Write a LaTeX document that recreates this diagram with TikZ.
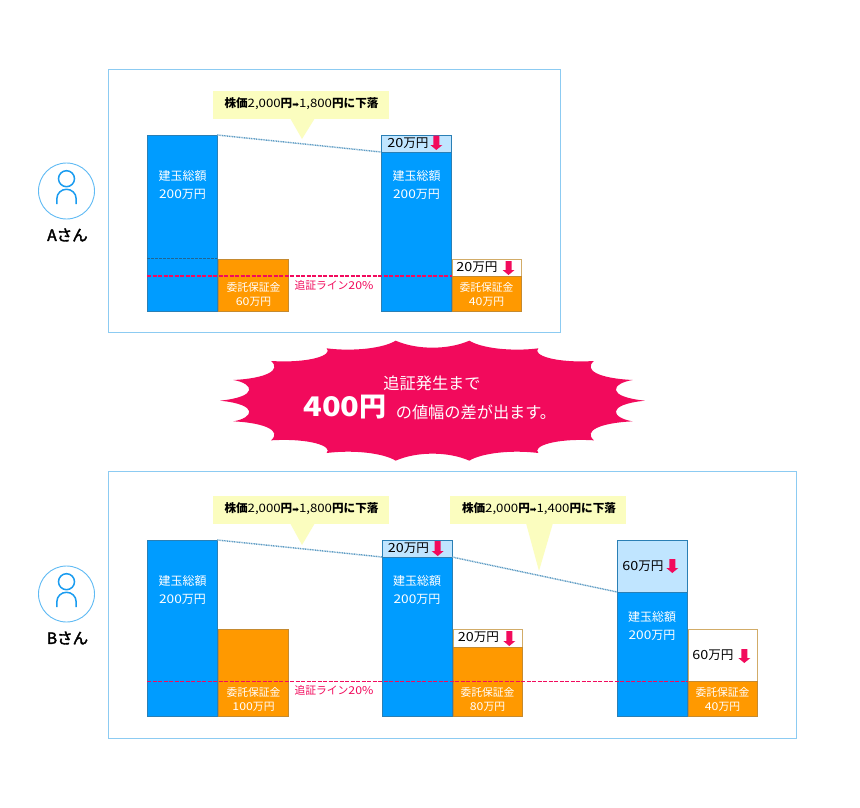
\documentclass[tikz,border=0pt]{standalone}
\usepackage{fontspec}
\setmainfont{Noto Sans CJK JP}
\newfontfamily\arrfont{DejaVu Sans}
\newfontfamily\numf[FakeStretch=1.14]{Noto Sans CJK JP}
\newfontfamily\medf[FakeBold=2.5]{Noto Sans CJK JP}
\newcommand\dg[1]{{\numf\mdseries #1}}
\definecolor{framec}{HTML}{8CCBF2}
\definecolor{barc}{HTML}{009CFF}
\definecolor{bard}{HTML}{2A7FB5}
\definecolor{lightc}{HTML}{C0E5FF}
\definecolor{orangec}{HTML}{FF9900}
\definecolor{oranged}{HTML}{C58A30}
\definecolor{topd}{HTML}{D2AC68}
\definecolor{creamc}{HTML}{FBFDBF}
\definecolor{redc}{HTML}{F20A5C}
\definecolor{rulered}{HTML}{F20B5D}
\definecolor{dotc}{HTML}{5E9CC4}
\definecolor{personc}{HTML}{1A9CF0}
\newcommand\rectn[6]{\node[#2,minimum width={(#5-#3)*1pt},minimum height={(#6-#4)*1pt}] (#1) at ({(#3+#5)/2},{(#4+#6)/2}) {};}
\newcommand\lbl[5]{\node[#2] (#1) at (#3,#4) {#5};}
\newcommand\downarr[3]{\fill[redc] (#1-3,#2) -- (#1+3,#2) -- (#1+3,#3-5) -- (#1+6,#3-5) -- (#1,#3) -- (#1-6,#3-5) -- (#1-3,#3-5) -- cycle;}
\newcommand\person[2]{%
  \draw[personc,line width=1.5] (#1,#2-12.3) circle[radius=8];
  \draw[personc,line width=1.5] (#1-9.7,#2+13) -- (#1-9.7,#2+8) .. controls (#1-9.7,#2+2) and (#1-5,#2-1.7) .. (#1,#2-1.7) .. controls (#1+5,#2-1.7) and (#1+9.7,#2+2) .. (#1+9.7,#2+8) -- (#1+9.7,#2+13);}
\tikzset{
  x=1pt,y=-1pt,
  every node/.style={inner sep=0,outer sep=0},
  panel/.style={draw=framec,line width=1,fill=white},
  barbox/.style={draw=bard,line width=1,fill=barc},
  topbox/.style={draw=bard,line width=1,fill=lightc},
  orbox/.style={draw=oranged,line width=1,fill=orangec},
  wbox/.style={draw=topd,line width=1,fill=white},
  callout/.style={fill=creamc},
  pricedrop/.style={draw=dotc,line width=1.4,dash pattern=on 1pt off 0.7pt},
  marginline/.style={draw=rulered,line width=1.5,dash pattern=on 4pt off 1.5pt},
  darkline/.style={draw=bard!80!black,line width=1,dash pattern=on 3pt off 1pt},
  wtxt/.style={text=white,font=\fontsize{12}{12}\selectfont},
  otxt/.style={text=white,font=\fontsize{10.8}{11}\selectfont},
  ktxt/.style={text=black,font=\fontsize{12.6}{13}\selectfont},
  ctxt/.style={text=black,font=\fontsize{11.6}{12}\selectfont\bfseries},
  rtxt/.style={text=redc,font=\fontsize{10.8}{11}\selectfont},
  ntxt/.style={text=black,font=\fontsize{15.5}{16}\selectfont\medf},
  circ/.style={draw=personc!70,line width=0.9,fill=white,circle,minimum size=56pt},
}
\begin{document}
\begin{tikzpicture}
\useasboundingbox (0,0) rectangle (860,808);
% panel A
\rectn{panelA}{panel}{108}{70}{560}{332}
\node[circ] (faceA) at (66.5,191) {};
\person{66.5}{191}
\lbl{nameA}{ntxt}{67.5}{235}{Aさん}
\rectn{a1bar}{barbox}{147}{135}{217}{311}
\rectn{a1or}{orbox}{218}{259}{288}{311}
\rectn{a2top}{topbox}{381}{135}{451}{152}
\rectn{a2bar}{barbox}{381}{152}{451}{311}
\rectn{a2w}{wbox}{452}{259}{521}{276}
\rectn{a2or}{orbox}{452}{276}{521}{311}
\coordinate (aDarkL) at (147,258.5);
\coordinate (aDarkR) at (217,258.5);
\coordinate (aLineL) at (147,276);
\coordinate (aLineR) at (451.5,276);
\draw[darkline] (aDarkL) -- (aDarkR);
\draw[marginline] (aLineL) -- (aLineR);
\draw[pricedrop] (a1bar.north east) -- (a2top.south west);
\fill[callout] (213,91) rectangle (389,119);
\fill[callout] (290,118) -- (315,118) -- (302,139) -- cycle;
\lbl{aCall}{ctxt}{301.5}{104}{株価\dg{2,000}円{\arrfont\fontsize{8}{8}\selectfont ➡}\dg{1,800}円に下落}
\lbl{a1t1}{wtxt}{182.5}{176}{建玉総額}
\lbl{a1t2}{wtxt}{182.5}{194}{\dg{200}万円}
\lbl{a1o1}{otxt}{253.5}{287}{委託保証金}
\lbl{a1o2}{otxt}{253.5}{302}{\dg{60}万円}
\lbl{aRule}{rtxt}{334}{285}{追証ライン\dg{20\%}}
\lbl{a2d}{ktxt}{408}{143}{\dg{20}万円}
\downarr{436.3}{135.7}{150}
\lbl{a2t1}{wtxt}{416.5}{176}{建玉総額}
\lbl{a2t2}{wtxt}{416.5}{194}{\dg{200}万円}
\lbl{a2wd}{ktxt}{477}{267}{\dg{20}万円}
\downarr{508.5}{261}{275}
\lbl{a2o1}{otxt}{486.5}{287}{委託保証金}
\lbl{a2o2}{otxt}{486.5}{302}{\dg{40}万円}
% burst
\begin{scope}[shift={(210,335)},scale=0.33333]
\fill[redc] (30,197) .. controls (150,185) and (130,145) .. (70,135)
 .. controls (170,130) and (215,105) .. (183,78)
 .. controls (300,85) and (370,60) .. (350,40)
 .. controls (430,50) and (520,40) .. (557,17)
 .. controls (620,45) and (715,45) .. (778,17)
 .. controls (815,40) and (905,50) .. (985,40)
 .. controls (965,60) and (1035,85) .. (1152,78)
 .. controls (1120,105) and (1165,130) .. (1268,135)
 .. controls (1205,145) and (1185,185) .. (1305,197)
 .. controls (1185,209) and (1205,249) .. (1268,259)
 .. controls (1165,264) and (1120,289) .. (1152,316)
 .. controls (1035,309) and (965,334) .. (985,354)
 .. controls (905,344) and (815,354) .. (778,377)
 .. controls (715,349) and (620,349) .. (557,377)
 .. controls (520,354) and (430,344) .. (350,354)
 .. controls (370,334) and (300,309) .. (183,316)
 .. controls (215,289) and (170,264) .. (70,259)
 .. controls (130,249) and (150,209) .. (30,197) -- cycle;
\end{scope}
\node[text=white,font=\fontsize{16.2}{16}\selectfont] (burst1) at (432,383) {追証発生まで};
\node[text=white,font=\fontsize{27}{27}\selectfont\bfseries] (burst2) at (345,407) {{\numf\bfseries 400}円};
\node[text=white,font=\fontsize{16.2}{16}\selectfont] (burst3) at (476,412) {の値幅の差が出ます。};
% panel B
\rectn{panelB}{panel}{108}{471}{796}{738}
\node[circ] (faceB) at (66.5,594) {};
\person{66.5}{594}
\lbl{nameB}{ntxt}{67.5}{638}{Bさん}
\rectn{b1bar}{barbox}{147}{540}{217}{716}
\rectn{b1or}{orbox}{218}{629}{288}{716}
\rectn{b2top}{topbox}{382}{540}{452}{557}
\rectn{b2bar}{barbox}{382}{557}{452}{716}
\rectn{b2w}{wbox}{453}{629}{522}{647}
\rectn{b2or}{orbox}{453}{647}{522}{716}
\rectn{b3top}{topbox}{617}{540}{687}{592}
\rectn{b3bar}{barbox}{617}{592}{687}{716}
\rectn{b3w}{wbox}{688}{629}{757}{681}
\rectn{b3or}{orbox}{688}{681}{757}{716}
\draw[pricedrop] (b1bar.north east) -- (b2top.south west);
\draw[pricedrop] (b2top.south east) -- (b3top.south west);
\fill[callout] (213,496) rectangle (389,524);
\fill[callout] (290,523) -- (315,523) -- (302,545) -- cycle;
\lbl{bCall1}{ctxt}{301.5}{509}{株価\dg{2,000}円{\arrfont\fontsize{8}{8}\selectfont ➡}\dg{1,800}円に下落}
\fill[callout] (450,496) rectangle (626,524);
\fill[callout] (526,523) -- (553,523) -- (539,571) -- cycle;
\lbl{bCall2}{ctxt}{539}{509}{株価\dg{2,000}円{\arrfont\fontsize{8}{8}\selectfont ➡}\dg{1,400}円に下落}
\lbl{b1t1}{wtxt}{182.5}{581}{建玉総額}
\lbl{b1t2}{wtxt}{182.5}{599}{\dg{200}万円}
\lbl{b1o1}{otxt}{253.5}{692}{委託保証金}
\lbl{b1o2}{otxt}{253.5}{707}{\dg{100}万円}
\lbl{bRule}{rtxt}{334}{690}{追証ライン\dg{20\%}}
\lbl{b2d}{ktxt}{408.5}{548}{\dg{20}万円}
\downarr{437.7}{541}{556}
\lbl{b2t1}{wtxt}{417}{581}{建玉総額}
\lbl{b2t2}{wtxt}{417}{599}{\dg{200}万円}
\lbl{b2wd}{ktxt}{478.5}{637}{\dg{20}万円}
\downarr{509.3}{631}{646}
\lbl{b2o1}{otxt}{487.5}{692}{委託保証金}
\lbl{b2o2}{otxt}{487.5}{707}{\dg{80}万円}
\lbl{b3d}{ktxt}{643}{566}{\dg{60}万円}
\downarr{672.3}{559}{573}
\lbl{b3t1}{wtxt}{652}{617}{建玉総額}
\lbl{b3t2}{wtxt}{652}{635}{\dg{200}万円}
\lbl{b3wd}{ktxt}{713}{655}{\dg{60}万円}
\downarr{744.3}{649}{663}
\lbl{b3o1}{otxt}{722.5}{692}{委託保証金}
\lbl{b3o2}{otxt}{722.5}{707}{\dg{40}万円}
\coordinate (bLineL) at (147,681.5);
\coordinate (bLineR) at (688,681.5);
\draw[marginline] (bLineL) -- (bLineR);
\end{tikzpicture}
\end{document}
